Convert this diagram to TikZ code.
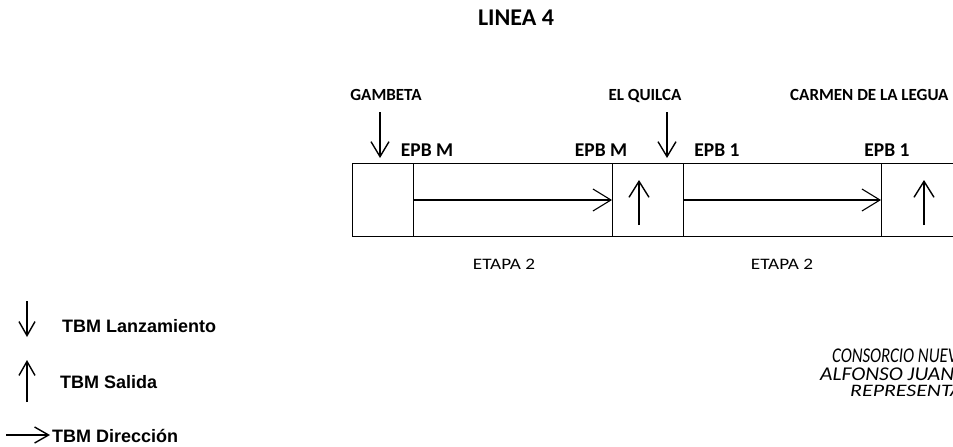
\documentclass[tikz,border=0pt]{standalone}
\usepackage{fontspec}
\setmainfont{Carlito}
\newfontfamily\arialf{Liberation Sans}
\newfontfamily\etapaf[FakeStretch=1.2]{Carlito}
\newfontfamily\sigA[FakeStretch=0.8]{Carlito Italic}
\newfontfamily\sigB[FakeStretch=1.1]{Carlito Italic}
\newfontfamily\sigC[FakeStretch=1.25]{Carlito Italic}
\usetikzlibrary{arrows.meta}
\begin{document}
\begin{tikzpicture}[x=1pt,y=-1pt,
  lbl/.style={font=\bfseries\fontsize{17}{17}\selectfont, inner sep=0pt, anchor=base},
  epb/.style={font=\bfseries\fontsize{19.5}{19.5}\selectfont, inner sep=0pt, anchor=base},
  etapa/.style={font=\etapaf\fontsize{16}{16}\selectfont, inner sep=0pt, anchor=base},
  leg/.style={font=\arialf\bfseries\fontsize{18}{18}\selectfont, inner sep=0pt, anchor=base west},
  sig/.style={inner sep=0pt, anchor=base west},
  vtip/.style={-{Straight Barb[length=15pt,width=18pt,line width=1.4pt]}, line width=1.4pt},
  utip/.style={-{Straight Barb[length=16pt,width=20pt,line width=1.4pt]}, line width=1.4pt},
  htip/.style={-{Straight Barb[length=18pt,width=22pt,line width=1.1pt]}, line width=1.1pt},
  legtip/.style={-{Straight Barb[length=14pt,width=16pt,line width=1.4pt]}, line width=1.4pt},
  box/.style={draw, line width=0.8pt}]
\useasboundingbox (0,0) rectangle (953,447);
\clip (0,0) rectangle (953,447);
\node[font=\bfseries\fontsize{24}{24}\selectfont, inner sep=0pt, anchor=base] (title) at (516,25) {LINEA 4};
% station labels
\node[lbl] (gam) at (386,100) {GAMBETA};
\node[lbl] (quil) at (645,100) {EL QUILCA};
\node[lbl, anchor=base west] (carm) at (790,100) {CARMEN DE LA LEGUA};
% launch arrows
\coordinate (g1) at (380,112); \coordinate (g2) at (380,158);
\coordinate (q1) at (667,112); \coordinate (q2) at (667,158);
\draw[vtip] (g1) -- (g2);
\draw[vtip] (q1) -- (q2);
% EPB labels
\node[epb] (e1) at (427,156) {EPB M};
\node[epb] (e2) at (601,156) {EPB M};
\node[epb] (e3) at (717,156) {EPB 1};
\node[epb] (e4) at (887,156) {EPB 1};
% boxes
\coordinate (b0) at (352,163);
\coordinate (b1) at (413,163);
\coordinate (b2) at (612,163);
\coordinate (b3) at (683,163);
\coordinate (b4) at (881,163);
\draw[box] (b0) rectangle (413,236);
\draw[box] (b1) rectangle (612,236);
\draw[box] (b2) rectangle (683,236);
\draw[box] (b3) rectangle (881,236);
\draw[box] (b4) rectangle (960,236);
% direction arrows
\coordinate (d1s) at (413,200); \coordinate (d1e) at (612,200);
\coordinate (d2s) at (683,200); \coordinate (d2e) at (881,200);
\draw[htip] (d1s) -- (d1e);
\draw[htip] (d2s) -- (d2e);
% exit arrows
\coordinate (u1s) at (639,225); \coordinate (u1e) at (639,180);
\coordinate (u2s) at (924,225); \coordinate (u2e) at (924,180);
\draw[utip] (u1s) -- (u1e);
\draw[utip] (u2s) -- (u2e);
% etapa labels
\node[etapa] (et1) at (504,269) {ETAPA 2};
\node[etapa] (et2) at (782,269) {ETAPA 2};
% legend
\coordinate (l1a) at (27,301); \coordinate (l1b) at (27,337);
\draw[legtip] (l1a) -- (l1b);
\node[leg] (t1) at (62,332) {TBM Lanzamiento};
\coordinate (l2a) at (27,402); \coordinate (l2b) at (27,360);
\draw[legtip] (l2a) -- (l2b);
\node[leg] (t2) at (60,388) {TBM Salida};
\coordinate (l3a) at (6,435); \coordinate (l3b) at (50,435);
\draw[legtip] (l3a) -- (l3b);
\node[leg] (t3) at (52,442) {TBM Dirección};
% signature
\node[sig, font=\sigA\fontsize{21}{21}\selectfont] (s1) at (832,362) {CONSORCIO NUEVO};
\node[sig, font=\sigB\fontsize{19.5}{19.5}\selectfont] (s2) at (820,380) {ALFONSO JUAN};
\node[sig, font=\sigC\fontsize{17.5}{17.5}\selectfont] (s3) at (850,396) {REPRESENTANTE};
\end{tikzpicture}
\end{document}
